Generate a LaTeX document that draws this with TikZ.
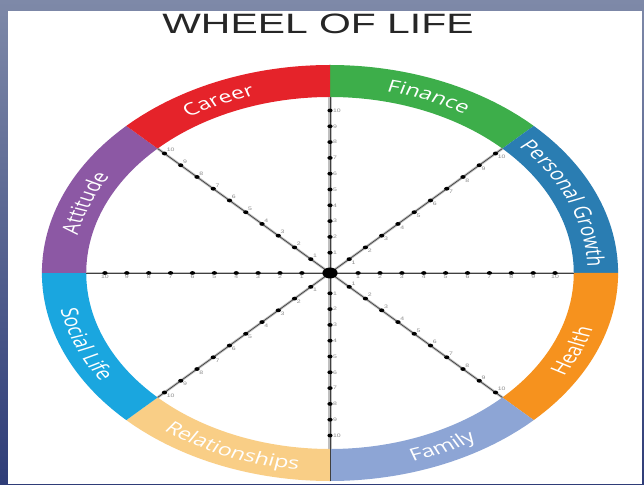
\documentclass[tikz,border=0pt]{standalone}
\usepackage{fontspec}
\setmainfont{Liberation Sans}
\newfontfamily\bandfont{Open Sans}
\usetikzlibrary{decorations.text}
\definecolor{bgtop}{HTML}{7E89A8}
\definecolor{bgbot}{HTML}{2F3D78}
\definecolor{careercol}{HTML}{E5232A}
\definecolor{financecol}{HTML}{3DAE4A}
\definecolor{pgrowthcol}{HTML}{2A7DB2}
\definecolor{healthcol}{HTML}{F6921E}
\definecolor{famcol}{HTML}{8DA5D5}
\definecolor{relatcol}{HTML}{F9CE86}
\definecolor{socialcol}{HTML}{1AA6DF}
\definecolor{attitudecol}{HTML}{8C58A4}
\newcommand\wolseg[3]{\fill[#3] (#1:208pt) arc[start angle=#1,end angle=#2,radius=208pt] -- (#2:176pt) arc[start angle=#2,end angle=#1,radius=176pt] -- cycle;}
\newcommand\woltext[4]{\path[decorate,decoration={text along path,text={|\bandfont\fontsize{17}{17}\selectfont|#4},text align=center,text color=white}] (#1:#3pt) arc[start angle=#1,end angle=#2,radius=#3pt];}
\tikzset{
  halo/.style={line width=2.2pt,black!25},
  core/.style={line width=0.6pt,black!75},
  tickdot/.style={black},
  numlbl/.style={font=\fontsize{5}{5}\selectfont,text=black!45,inner sep=0.5pt},
  titlestyle/.style={font=\fontsize{28}{28}\selectfont,text=black!85,inner sep=0pt}
}
\begin{document}
\begin{tikzpicture}[x=1pt,y=1pt]
\useasboundingbox (-330,-211) rectangle (314,273);
\shade[top color=bgtop,bottom color=bgbot] (-330,-211) rectangle (314,273);
\fill[white] (-322,-211) rectangle (312,262);
\node[titlestyle] (title) at (-12,249) {\scalebox{1.46}[1]{WHEEL OF LIFE}};
\begin{scope}[transform canvas={xscale=1.385}]
  \wolseg{90}{45}{financecol}
  \wolseg{45}{0}{pgrowthcol}
  \wolseg{0}{-45}{healthcol}
  \wolseg{-45}{-90}{famcol}
  \wolseg{-90}{-135}{relatcol}
  \wolseg{-135}{-180}{socialcol}
  \wolseg{180}{135}{attitudecol}
  \wolseg{135}{90}{careercol}
  % band labels
  \woltext{145}{85}{186}{Career}
  \woltext{98}{38}{186}{Finance}
  \woltext{62}{-17}{186}{Personal Growth}
  \woltext{192}{125}{186}{Attitude}
  \woltext{170}{234}{198}{Social Life}
  \woltext{-152}{-72}{198}{Relationships}
  \woltext{-97}{-33}{198}{Family}
  \woltext{-58}{10}{198}{Health}
  % spokes
  \coordinate (c) at (0,0);
  \coordinate (top) at (90:176pt);
  \coordinate (bot) at (270:208pt);
  \coordinate (lft) at (180:176pt);
  \coordinate (rgt) at (0:176pt);
  \foreach \a in {45,135,225,315}{\coordinate (d\a) at (\a:176pt);}
  \draw[halo] (lft) -- (rgt);
  \draw[halo] (top) -- (0,-176pt);
  \foreach \a in {45,135,225,315}{\draw[halo] (c) -- (d\a);}
  \draw[core] (lft) -- (rgt);
  \draw[core] (top) -- (bot);
  \foreach \a in {45,135,225,315}{\draw[core] (c) -- (d\a);}
  % ticks
  \foreach \a/\pos in {90/right,270/right,0/below,180/below}{
    \foreach \k [evaluate=\k as \d using 15.8*\k+4.5] in {1,...,10}{
      \fill[tickdot] (\a:\d pt) circle[radius=1.9pt];
      \node[numlbl,\pos=1.5pt] (n\a-\k) at (\a:\d pt) {\k};
    }}
  \foreach \a/\pos in {45/below right,135/above right,225/below right,315/above right}{
    \foreach \k [evaluate=\k as \d using 16.6*\k+3] in {1,...,10}{
      \fill[tickdot] (\a:\d pt) circle[radius=1.9pt];
      \node[numlbl,\pos=1pt] (n\a-\k) at (\a:\d pt) {\k};
    }}
  \fill[black] (c) circle[radius=5.5pt];
\end{scope}
\end{tikzpicture}
\end{document}
